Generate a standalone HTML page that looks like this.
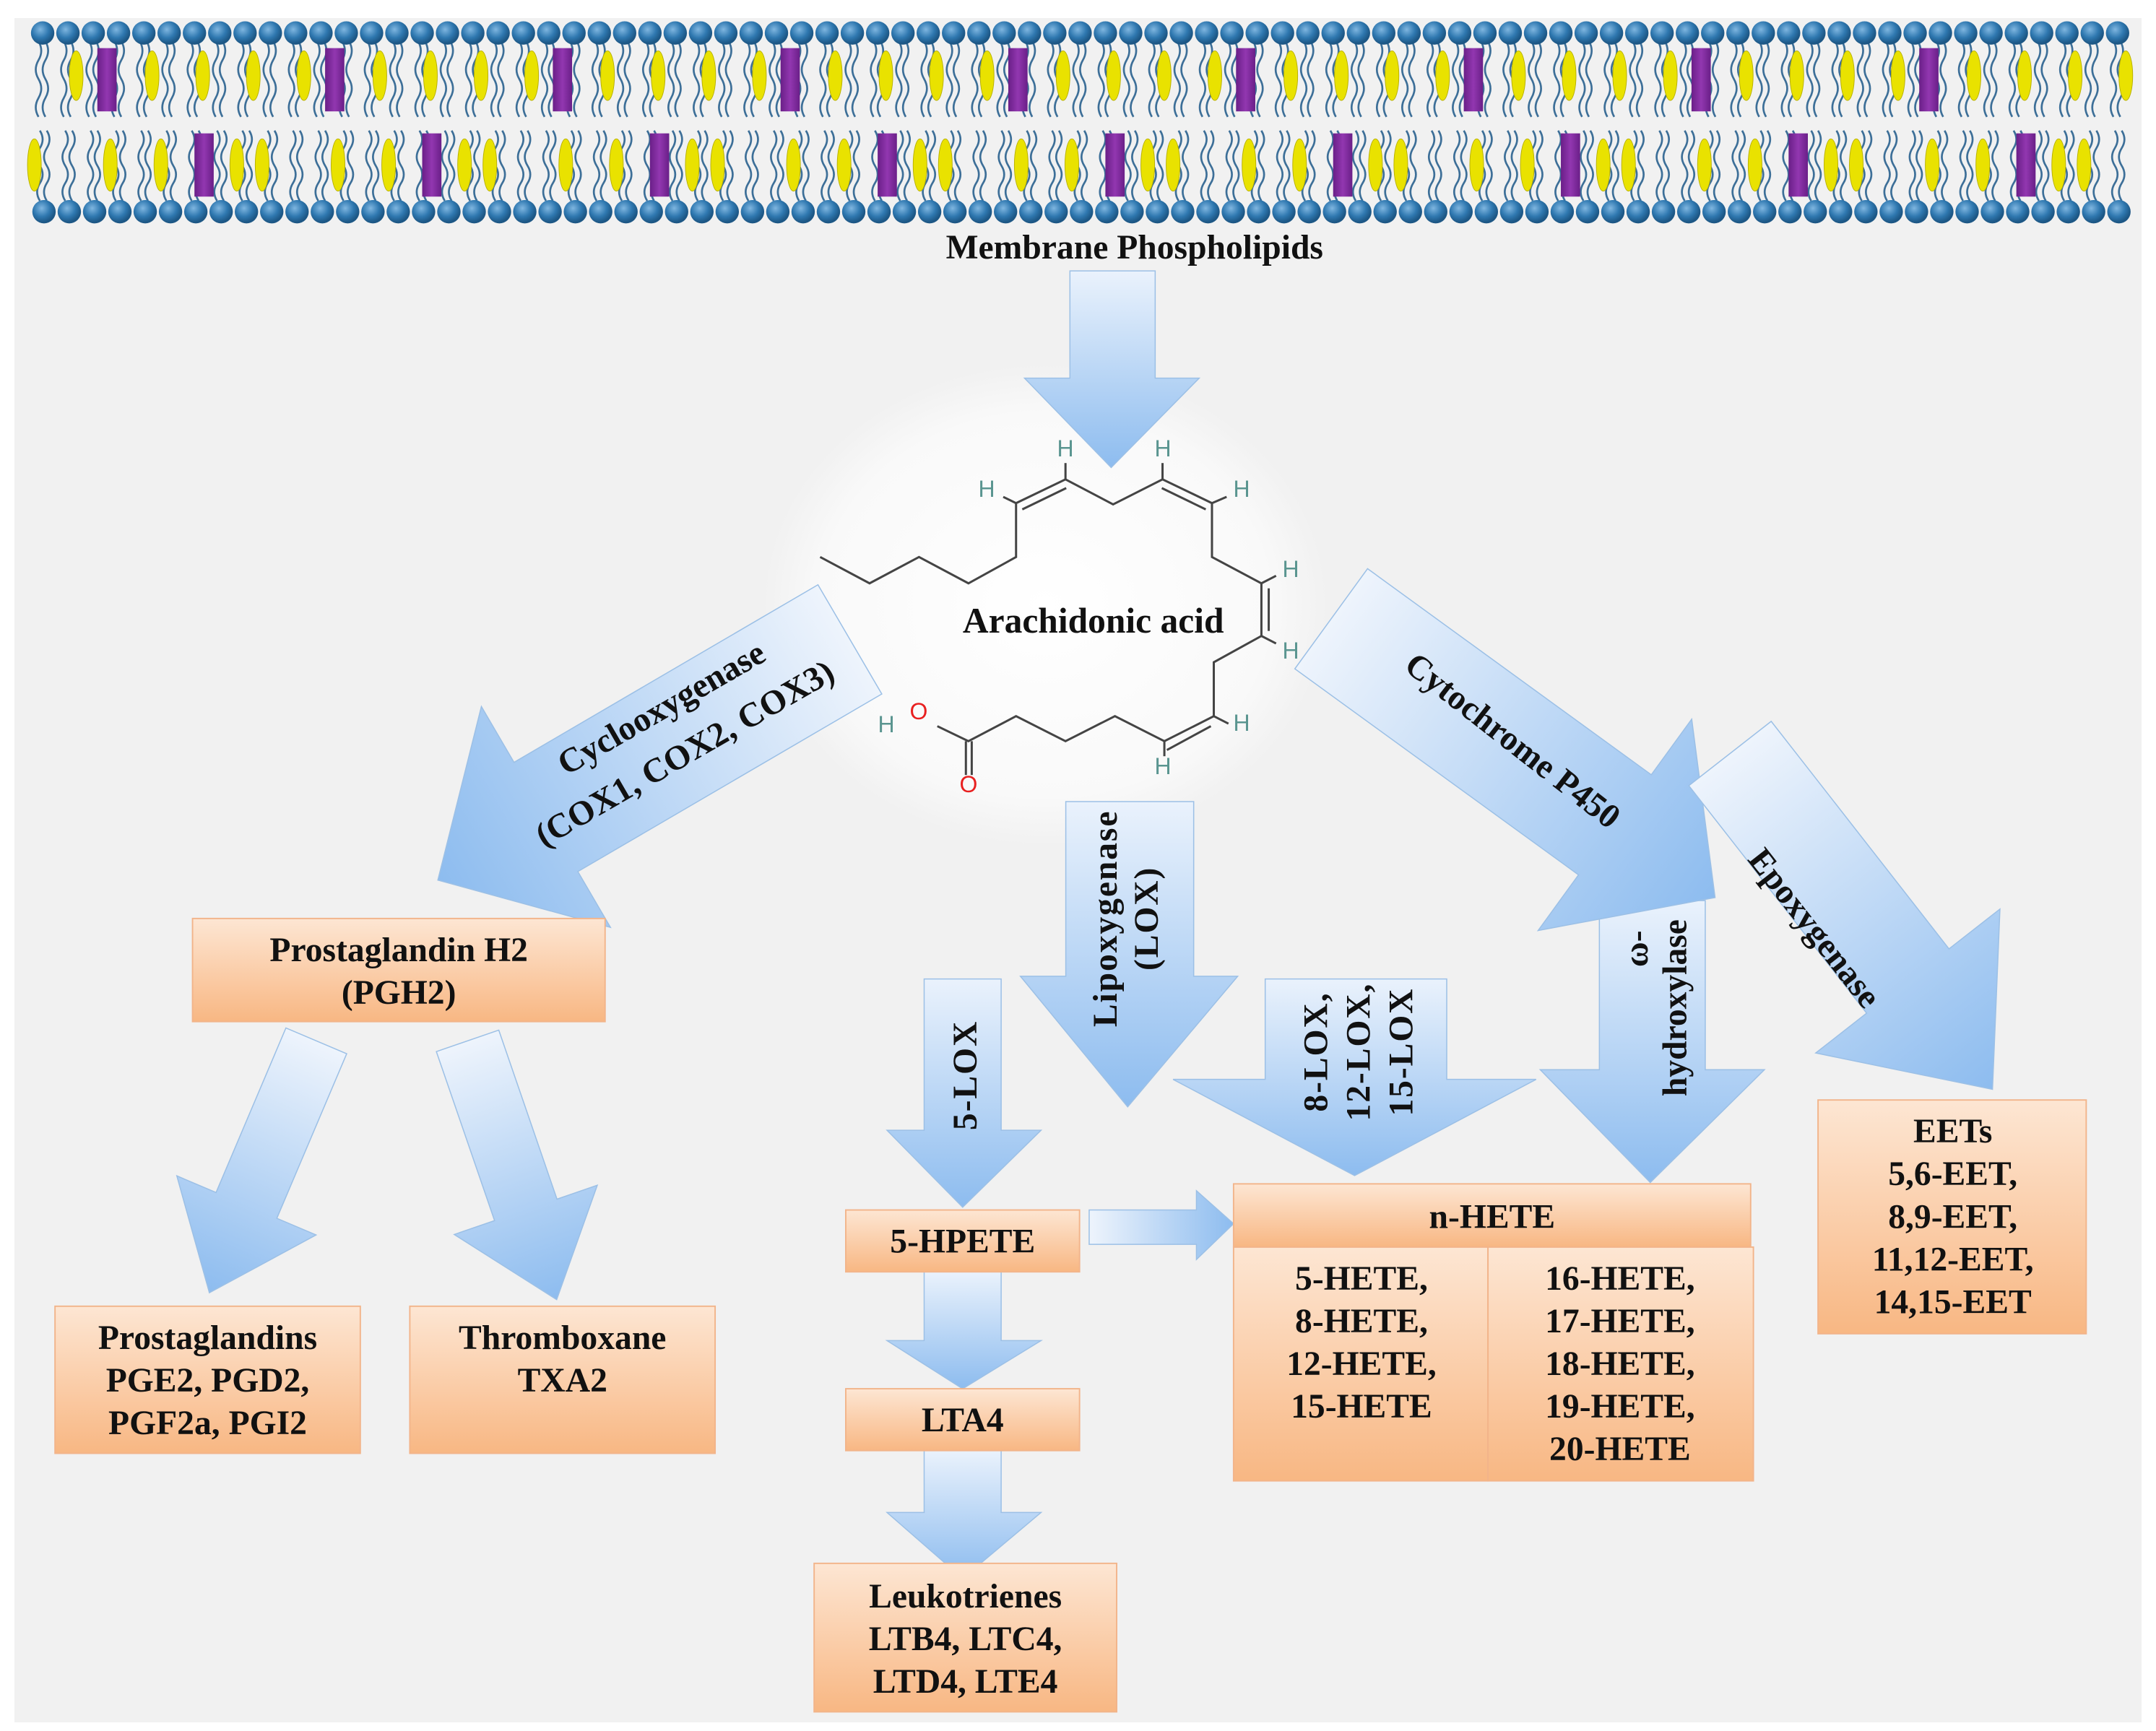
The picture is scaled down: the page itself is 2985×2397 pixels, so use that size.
<!DOCTYPE html>
<html><head><meta charset="utf-8">
<style>
html,body{margin:0;padding:0;background:#fff;}
svg{display:block;}
text{font-family:"Liberation Serif",serif;font-weight:bold;fill:#111;}
.h{fill:#5a9590;font-weight:normal;font-family:"Liberation Sans",sans-serif;}
.o{fill:#e82020;font-weight:normal;font-family:"Liberation Sans",sans-serif;}
</style></head>
<body>
<svg id="s" width="2985" height="2397" viewBox="0 0 2985 2397" xmlns="http://www.w3.org/2000/svg">
<defs>
<linearGradient id="box" x1="0" y1="0" x2="0" y2="1">
<stop offset="0" stop-color="#fde6d3"/><stop offset="1" stop-color="#f8b783"/>
</linearGradient>
<linearGradient id="arr" x1="0" y1="0" x2="1" y2="0">
<stop offset="0" stop-color="#eef4fc"/><stop offset="1" stop-color="#8dbcef"/>
</linearGradient>
<linearGradient id="arrv" x1="0" y1="0" x2="0" y2="1">
<stop offset="0" stop-color="#eaf2fc"/><stop offset="1" stop-color="#8dbcef"/>
</linearGradient>
<radialGradient id="halo" cx="0.5" cy="0.5" r="0.5">
<stop offset="0" stop-color="#ffffff"/><stop offset="0.8" stop-color="#f9f9f9"/><stop offset="1" stop-color="#f1f1f1"/>
</radialGradient>
<radialGradient id="head" cx="0.4" cy="0.35" r="0.6">
<stop offset="0" stop-color="#7fb6e0"/><stop offset="0.6" stop-color="#2f78b0"/><stop offset="1" stop-color="#1d5785"/>
</radialGradient>
<linearGradient id="purp" x1="0" y1="0" x2="1" y2="0">
<stop offset="0" stop-color="#6a1f88"/><stop offset="0.5" stop-color="#9237b0"/><stop offset="1" stop-color="#6a1f88"/>
</linearGradient>
</defs>
<rect x="20" y="25" width="2945" height="2360" fill="#f1f1f1"/>
<g transform="scale(1.904)">
<g id="mem"></g>
<ellipse cx="760" cy="440" rx="205" ry="175" fill="url(#halo)"/>
<text x="825" y="188" font-size="25" text-anchor="middle">Membrane Phospholipids</text>

<polygon points="778,197 840,197 840,275 872,275 808,340 745,275 778,275" fill="url(#arrv)" stroke="#9cc0e6" stroke-width="0.8"/>
<polygon points="775,583 868,583 868,710 900,710 820,805 742,710 775,710" fill="url(#arrv)" stroke="#9cc0e6" stroke-width="0.8"/>
<polygon points="672,712 728,712 728,822 757,822 700,878 645,822 672,822" fill="url(#arrv)" stroke="#9cc0e6" stroke-width="0.8"/>
<polygon points="920,712 1052,712 1052,785 1117,785 985,855 853,785 920,785" fill="url(#arrv)" stroke="#9cc0e6" stroke-width="0.8"/>
<polygon points="1163,655 1240,655 1240,778 1283,778 1200,860 1120,778 1163,778" fill="url(#arrv)" stroke="#9cc0e6" stroke-width="0.8"/>
<polygon points="672,925 728,925 728,975 757,975 700,1010 645,975 672,975" fill="url(#arrv)" stroke="#9cc0e6" stroke-width="0.8"/>
<polygon points="672,1055 728,1055 728,1100 757,1100 700,1148 645,1100 672,1100" fill="url(#arrv)" stroke="#9cc0e6" stroke-width="0.8"/>
<polygon points="792,880 870,880 870,866 897,890 870,916 870,905 792,905" fill="url(#arr)" stroke="#9cc0e6" stroke-width="0.8"/>

<g transform="translate(618,465) rotate(149.7)">
<polygon points="0,-46 256,-46 256,-93 347,0 256,93 256,46 0,46" fill="url(#arr)" stroke="#9cc0e6" stroke-width="0.8"/>
</g>
<g transform="translate(968,450) rotate(36)">
<polygon points="0,-45 255,-45 255,-95 345,0 255,95 255,45 0,45" fill="url(#arr)" stroke="#9cc0e6" stroke-width="0.8"/>
</g>
<g transform="translate(1258,548) rotate(52)">
<polygon points="0,-38 210,-38 210,-85 310,0 210,85 210,38 0,38" fill="url(#arr)" stroke="#9cc0e6" stroke-width="0.8"/>
</g>
<g transform="translate(230,757) rotate(113)">
<polygon points="0,-24 130,-24 130,-55 199,0 130,55 130,24 0,24" fill="url(#arr)" stroke="#9cc0e6" stroke-width="0.8"/>
</g>
<g transform="translate(340,757) rotate(71)">
<polygon points="0,-24 130,-24 130,-55 199,0 130,55 130,24 0,24" fill="url(#arr)" stroke="#9cc0e6" stroke-width="0.8"/>
</g>

<g font-size="25">
<text transform="translate(485,522) rotate(-30)" text-anchor="middle">Cyclooxygenase</text>
<text transform="translate(502,555) rotate(-30)" text-anchor="middle">(COX1, COX2, COX3)</text>
<text transform="translate(1095,545) rotate(38)" text-anchor="middle">Cytochrome P450</text>
<text transform="translate(1313,680) rotate(52)" text-anchor="middle">Epoxygenase</text>
<text transform="translate(812,668) rotate(-90)" text-anchor="middle" letter-spacing="1">Lipoxygenase</text>
<text transform="translate(842,668) rotate(-90)" text-anchor="middle" letter-spacing="1">(LOX)</text>
<text transform="translate(710,782) rotate(-90)" text-anchor="middle" letter-spacing="1">5-LOX</text>
<text transform="translate(965,765) rotate(-90)" text-anchor="middle" letter-spacing="1">8-LOX,</text>
<text transform="translate(996,765) rotate(-90)" text-anchor="middle" letter-spacing="1">12-LOX,</text>
<text transform="translate(1027,765) rotate(-90)" text-anchor="middle" letter-spacing="1">15-LOX</text>
<text transform="translate(1198,690) rotate(-90)" text-anchor="middle">ω-</text>
<text transform="translate(1226,733) rotate(-90)" text-anchor="middle">hydroxylase</text>
</g>

<g fill="url(#box)" stroke="#f2b48a" stroke-width="1">
<rect x="140" y="668" width="300" height="75"/>
<rect x="40" y="950" width="222" height="107"/>
<rect x="298" y="950" width="222" height="107"/>
<rect x="615" y="880" width="170" height="45"/>
<rect x="615" y="1010" width="170" height="45"/>
<rect x="592" y="1137" width="220" height="108"/>
<rect x="897" y="861" width="376" height="46"/>
<rect x="897" y="907" width="185" height="170"/>
<rect x="1082" y="907" width="193" height="170"/>
<rect x="1322" y="800" width="195" height="170"/>
</g>
<g font-size="25" text-anchor="middle">
<text x="290" y="699">Prostaglandin H2</text>
<text x="290" y="730">(PGH2)</text>
<text x="151" y="981">Prostaglandins</text>
<text x="151" y="1012">PGE2, PGD2,</text>
<text x="151" y="1043">PGF2a, PGI2</text>
<text x="409" y="981">Thromboxane</text>
<text x="409" y="1012">TXA2</text>
<text x="700" y="911">5-HPETE</text>
<text x="700" y="1041">LTA4</text>
<text x="702" y="1169">Leukotrienes</text>
<text x="702" y="1200">LTB4, LTC4,</text>
<text x="702" y="1231">LTD4, LTE4</text>
<text x="1085" y="893">n-HETE</text>
<text x="990" y="938">5-HETE,</text>
<text x="990" y="969">8-HETE,</text>
<text x="990" y="1000">12-HETE,</text>
<text x="990" y="1031">15-HETE</text>
<text x="1178" y="938">16-HETE,</text>
<text x="1178" y="969">17-HETE,</text>
<text x="1178" y="1000">18-HETE,</text>
<text x="1178" y="1031">19-HETE,</text>
<text x="1178" y="1062">20-HETE</text>
<text x="1420" y="831">EETs</text>
<text x="1420" y="862">5,6-EET,</text>
<text x="1420" y="893">8,9-EET,</text>
<text x="1420" y="924">11,12-EET,</text>
<text x="1420" y="955">14,15-EET</text>
<text x="795" y="460" font-size="26">Arachidonic acid</text>
</g>
</g>

<!-- molecule -->
<g transform="translate(1100,571.8) scale(0.507,0.347)">
<g fill="none" stroke="#444" stroke-width="3" vector-effect="non-scaling-stroke">
<polyline vector-effect="non-scaling-stroke" points="70,575 205,680 340,575 475,680 605,575 605,360 740,265 870,365 1005,265 1140,360 1140,575 1275,680 1275,890 1145,995 1145,1210 1010,1310 875,1210 740,1310 605,1210 475,1310 390,1250"/>
<line vector-effect="non-scaling-stroke" x1="622" y1="385" x2="742" y2="300"/>
<line vector-effect="non-scaling-stroke" x1="1003" y1="300" x2="1123" y2="385"/>
<line vector-effect="non-scaling-stroke" x1="1295" y1="700" x2="1295" y2="870"/>
<line vector-effect="non-scaling-stroke" x1="1017" y1="1345" x2="1137" y2="1250"/>
<line vector-effect="non-scaling-stroke" x1="740" y1="265" x2="740" y2="200"/>
<line vector-effect="non-scaling-stroke" x1="1005" y1="265" x2="1005" y2="200"/>
<line vector-effect="non-scaling-stroke" x1="605" y1="360" x2="570" y2="335"/>
<line vector-effect="non-scaling-stroke" x1="1140" y1="360" x2="1180" y2="335"/>
<line vector-effect="non-scaling-stroke" x1="1275" y1="680" x2="1315" y2="650"/>
<line vector-effect="non-scaling-stroke" x1="1275" y1="890" x2="1315" y2="920"/>
<line vector-effect="non-scaling-stroke" x1="1145" y1="1210" x2="1185" y2="1240"/>
<line vector-effect="non-scaling-stroke" x1="1010" y1="1310" x2="1010" y2="1370"/>
<line vector-effect="non-scaling-stroke" x1="468" y1="1310" x2="468" y2="1445"/>
<line vector-effect="non-scaling-stroke" x1="484" y1="1310" x2="484" y2="1445"/>
</g>
</g>
<g font-size="32" text-anchor="middle">
<text class="h" x="1475" y="632">H</text>
<text class="h" x="1610" y="632">H</text>
<text class="h" x="1366" y="688">H</text>
<text class="h" x="1719" y="688">H</text>
<text class="h" x="1787" y="799">H</text>
<text class="h" x="1787" y="912">H</text>
<text class="h" x="1719" y="1012">H</text>
<text class="h" x="1610" y="1072">H</text>
<text class="h" x="1227" y="1014">H</text>
<text class="o" x="1272" y="996">O</text>
<text class="o" x="1341" y="1097">O</text>
</g>
</svg>
<script>
(function(){
var g=document.getElementById("mem"),h="";
function wave(x,y1,y2){var d="M"+x+","+y1,n=4,step=(y2-y1)/n;for(var i=0;i<n;i++){var y=y1+i*step;d+=" Q"+(x+(i%2?-4:4))+","+(y+step/2)+" "+x+","+(y+step);}return d;}
var sp=18.4;
for(var i=0;i<84;i++){
 var x=31+i*sp;
 if(x>1550)break;
 h+='<path d="'+wave(x-3,30,85)+'" fill="none" stroke="#3d6f98" stroke-width="1.4"/>';
 h+='<path d="'+wave(x+2,30,85)+'" fill="none" stroke="#3d6f98" stroke-width="1.4"/>';
 h+='<path d="'+wave(x-2,95,146)+'" fill="none" stroke="#3d6f98" stroke-width="1.4"/>';
 h+='<path d="'+wave(x+3,95,146)+'" fill="none" stroke="#3d6f98" stroke-width="1.4"/>';
}
for(var i=0;i<84;i++){
 var x=31+i*sp; if(x>1550)break;
 if(i%9==2) h+='<rect x="'+(x+3)+'" y="35" width="14" height="46" fill="url(#purp)"/>';
 else if(i%9==1||i%9==4||i%9==6||i%9==8) h+='<ellipse cx="'+(x+6)+'" cy="55" rx="5" ry="18" fill="#e9e200" stroke="#b8b000" stroke-width="0.5"/>';
 if(i%9==6) h+='<rect x="'+(x+0)+'" y="97" width="14" height="46" fill="url(#purp)"/>';
 else if(i%9==0||i%9==3||i%9==5||i%9==8) h+='<ellipse cx="'+(x-6)+'" cy="120" rx="5" ry="19" fill="#e9e200" stroke="#b8b000" stroke-width="0.5"/>';
}
for(var i=0;i<84;i++){
 var x=31+i*sp; if(x>1550)break;
 h+='<circle cx="'+x+'" cy="24" r="8.5" fill="url(#head)"/>';
 h+='<circle cx="'+(x+1)+'" cy="154" r="8.5" fill="url(#head)"/>';
}
g.innerHTML=h;
})();
</script>
</body></html>
